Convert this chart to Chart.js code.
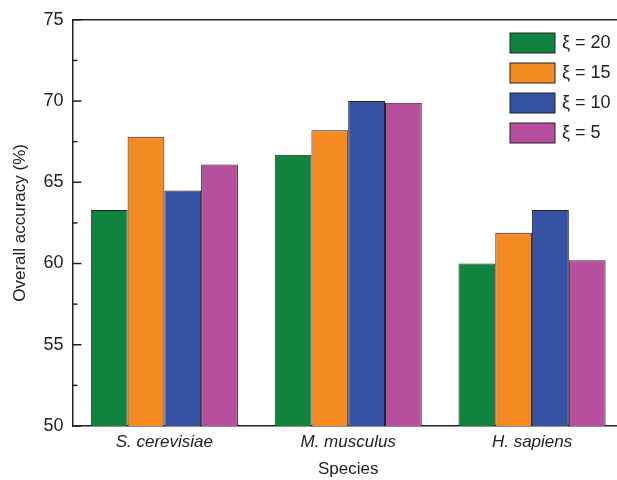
<!DOCTYPE html>
<html>
<head>
    <title>Overall accuracy</title>
    <style>
        body { margin: 0; background: #fff; overflow: hidden; }
        #wrap { width: 624px; height: 480px; }
    </style>
</head>
<body>
    <div id="wrap"><canvas id="myChart"></canvas></div>
    <script src="https://cdn.jsdelivr.net/npm/chart.js@4"></script>
    <script type="text/javascript">
        const species = ['S. cerevisiae', 'M. musculus', 'H. sapiens'];
        const seriesNames = ['\u03BE = 20', '\u03BE = 15', '\u03BE = 10', '\u03BE = 5'];
        const xi20 = [63.3, 66.7, 60.0];
        const xi15 = [67.8, 68.2, 61.9];
        const xi10 = [64.5, 70.0, 63.3];
        const xi5 = [66.1, 69.9, 60.2];
        const colors = ['#10843f', '#f38a22', '#3652a3', '#b64f9e'];

        const font = 'Liberation Sans, Arial, sans-serif';

        // frame top line, inward ticks, legend in the upper right
        const decor = {
            id: 'decor',
            afterDraw(chart) {
                const ctx = chart.ctx;
                const area = chart.chartArea;
                const y = chart.scales.y;
                ctx.save();
                ctx.strokeStyle = '#222';
                ctx.lineWidth = 1.5;
                ctx.beginPath();
                ctx.moveTo(area.left, area.top);
                ctx.lineTo(chart.width, area.top);
                ctx.stroke();
                y.ticks.forEach(t => {
                    const py = y.getPixelForValue(t.value);
                    const len = (t.value % 5 === 0) ? 9 : 5;
                    ctx.beginPath();
                    ctx.moveTo(area.left, py);
                    ctx.lineTo(area.left + len, py);
                    ctx.stroke();
                });
                // legend
                ctx.font = '18px ' + font;
                ctx.textBaseline = 'middle';
                chart.data.datasets.forEach((ds, i) => {
                    const bx = 510, by = 33 + i * 30;
                    ctx.fillStyle = ds.backgroundColor;
                    ctx.fillRect(bx, by, 45, 20);
                    ctx.strokeStyle = '#222';
                    ctx.lineWidth = 1;
                    ctx.strokeRect(bx, by, 45, 20);
                    ctx.fillStyle = '#222';
                    ctx.fillText(ds.label, 562, by + 10);
                });
                ctx.restore();
            }
        };

        const ctx = document.getElementById('myChart').getContext('2d');
        new Chart(ctx, {
            type: 'bar',
            data: {
                labels: species,
                datasets: [xi20, xi15, xi10, xi5].map((d, i) => ({
                    label: seriesNames[i],
                    data: d,
                    backgroundColor: colors[i],
                    borderColor: '#222',
                    borderWidth: 1,
                    borderSkipped: false
                }))
            },
            options: {
                responsive: true,
                maintainAspectRatio: false,
                animation: false,
                layout: { padding: { top: 11, right: 0, left: 10, bottom: 2 } },
                plugins: {
                    legend: { display: false },
                    tooltip: { enabled: false }
                },
                datasets: {
                    bar: { categoryPercentage: 0.8, barPercentage: 1.0 }
                },
                scales: {
                    x: {
                        grid: { display: false, drawTicks: false },
                        border: { color: '#222', width: 1.5 },
                        ticks: {
                            color: '#222',
                            padding: 8,
                            font: { family: font, size: 17, style: 'italic', lineHeight: 1 }
                        },
                        title: {
                            display: true,
                            text: 'Species',
                            color: '#222',
                            padding: { top: 2, bottom: 0 },
                            font: { family: font, size: 17, lineHeight: 1 }
                        }
                    },
                    y: {
                        min: 50,
                        max: 75,
                        grid: { display: false, drawTicks: false },
                        border: { color: '#222', width: 1.5 },
                        ticks: {
                            stepSize: 2.5,
                            color: '#222',
                            padding: 9,
                            font: { family: font, size: 18 },
                            callback: v => (v % 5 === 0 ? v : '')
                        },
                        title: {
                            display: true,
                            text: 'Overall accuracy (%)',
                            color: '#222',
                            padding: { top: 0, bottom: 4 },
                            font: { family: font, size: 17 }
                        }
                    }
                }
            },
            plugins: [decor]
        });
    </script>
</body>
</html>
